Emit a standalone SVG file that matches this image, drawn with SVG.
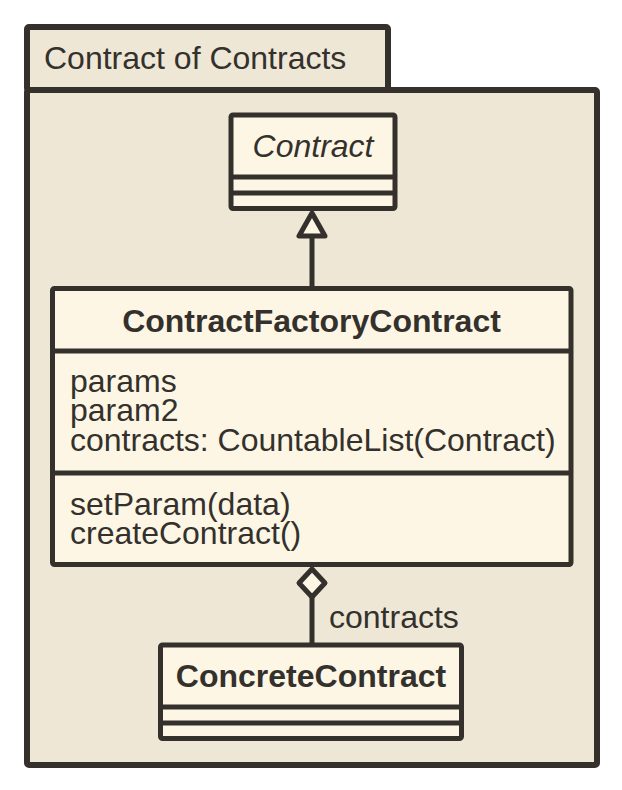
<svg xmlns="http://www.w3.org/2000/svg" width="622" height="790" viewBox="0 0 622 790">
<style>
.pkg{fill:#EEE7D5;stroke:#34312D;stroke-width:6;stroke-linejoin:round}
.cls{fill:#FDF6E4;stroke:#34312D;stroke-width:5;stroke-linejoin:round}
.ln{stroke:#34312D;stroke-width:5;fill:none}
text{font-family:"Liberation Sans",Arial,Helvetica,sans-serif;font-size:32px;fill:#34312D}
.b{font-weight:bold}
.i{font-style:italic}
.c{text-anchor:middle}
</style>
<rect width="622" height="790" fill="#FFFFFF"/>
<g id="package">
<rect class="pkg" x="27" y="90" width="570" height="675" rx="2"/>
<rect class="pkg" x="27" y="27" width="361" height="63" rx="2"/>
<text x="44" y="69">Contract of Contracts</text>
</g>
<g id="connectors">
<line class="ln" x1="312" y1="236" x2="312" y2="289"/>
<polygon points="312,213 299,236 325,236" fill="#FDF6E4" stroke="#34312D" stroke-width="5" stroke-linejoin="round"/>
<line class="ln" x1="312" y1="597" x2="312" y2="645"/>
<polygon points="312,569 325,583 312,597 299,583" fill="#FDF6E4" stroke="#34312D" stroke-width="5" stroke-linejoin="round"/>
<text x="329" y="628">contracts</text>
</g>
<g id="Contract">
<rect class="cls" x="231" y="115" width="164" height="93.5" rx="2"/>
<line class="ln" x1="231" y1="177" x2="395" y2="177"/>
<line class="ln" x1="231" y1="193" x2="395" y2="193"/>
<text class="i c" x="313" y="157">Contract</text>
</g>
<g id="ContractFactoryContract">
<rect class="cls" x="52.5" y="288.5" width="518.5" height="276" rx="2"/>
<line class="ln" x1="52.5" y1="351" x2="571" y2="351"/>
<line class="ln" x1="52.5" y1="473" x2="571" y2="473"/>
<text class="b c" x="311.5" y="332">ContractFactoryContract</text>
<text x="70" y="392">params</text>
<text x="70" y="421">param2</text>
<text x="70" y="451">contracts: CountableList(Contract)</text>
<text x="70" y="515">setParam(data)</text>
<text x="70" y="544">createContract()</text>
</g>
<g id="ConcreteContract">
<rect class="cls" x="160.5" y="645" width="301" height="93.5" rx="2"/>
<line class="ln" x1="160.5" y1="707" x2="461.5" y2="707"/>
<line class="ln" x1="160.5" y1="723" x2="461.5" y2="723"/>
<text class="b c" x="311" y="687">ConcreteContract</text>
</g>
</svg>
